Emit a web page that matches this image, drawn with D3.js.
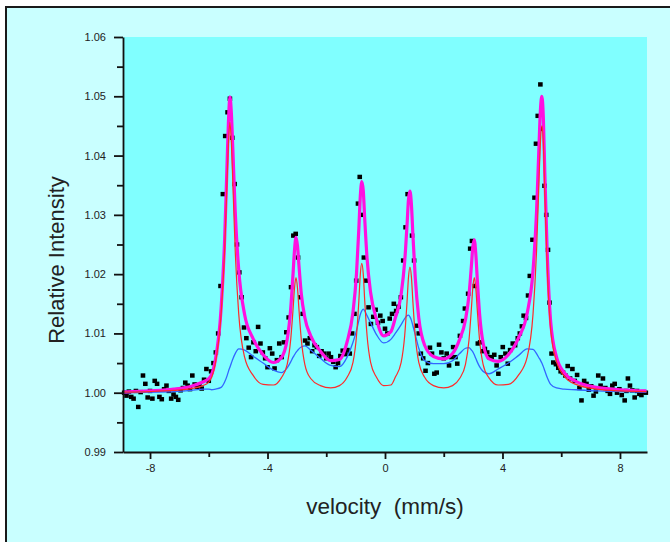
<!DOCTYPE html>
<html>
<head>
<meta charset="utf-8">
<script src="https://cdn.jsdelivr.net/npm/d3@7"></script>
<style>
  html, body { margin: 0; padding: 0; background: #ffffff; }
  svg { display: block; }
  text { font-family: "Liberation Sans", Arial, sans-serif; }
</style>
</head>
<body>
<svg id="chart" width="670" height="542"></svg>
<script>
// ---- Axis ticks ----
const xMajorTicks = [-8, -4, 0, 4, 8];
const xMinorTicks = [-6, -2, 2, 6];
const yMajorTicks = [0.99, 1.00, 1.01, 1.02, 1.03, 1.04, 1.05, 1.06];
const yMinorTicks = [0.995, 1.005, 1.015, 1.025, 1.035, 1.045, 1.055];

// ---- Measured spectrum: velocity (mm/s) and relative intensity ----
const dataVelocity = [
  -8.88, -8.80, -8.72, -8.64, -8.56, -8.48, -8.40, -8.32, -8.24, -8.16,
  -8.08, -8.00, -7.92, -7.84, -7.76, -7.68, -7.60, -7.52, -7.44, -7.36,
  -7.28, -7.20, -7.12, -7.04, -6.96, -6.88, -6.80, -6.72, -6.64, -6.56,
  -6.48, -6.40, -6.32, -6.24, -6.16, -6.08, -6.00, -5.92, -5.84, -5.76,
  -5.68, -5.60, -5.52, -5.44, -5.36, -5.28, -5.20, -5.12, -5.04, -4.96,
  -4.88, -4.80, -4.72, -4.64, -4.56, -4.48, -4.40, -4.32, -4.24, -4.16,
  -4.08, -4.00, -3.92, -3.84, -3.76, -3.68, -3.60, -3.52, -3.44, -3.36,
  -3.28, -3.20, -3.12, -3.04, -2.96, -2.88, -2.80, -2.72, -2.64, -2.56,
  -2.48, -2.40, -2.32, -2.24, -2.16, -2.08, -2.00, -1.92, -1.84, -1.76,
  -1.68, -1.60, -1.52, -1.44, -1.36, -1.28, -1.20, -1.12, -1.04, -0.98,
  -0.92, -0.86, -0.78, -0.72, -0.64, -0.56, -0.48, -0.40, -0.32, -0.24,
  -0.16, -0.08, 0.00, 0.08, 0.16, 0.24, 0.30, 0.38, 0.46, 0.54,
  0.62, 0.70, 0.77, 0.84, 0.92, 0.99, 1.07, 1.15, 1.22, 1.30,
  1.38, 1.46, 1.53, 1.60, 1.68, 1.76, 1.84, 1.92, 2.00, 2.10,
  2.18, 2.26, 2.32, 2.40, 2.46, 2.55, 2.66, 2.72, 2.83, 2.90,
  2.96, 3.06, 3.16, 3.24, 3.32, 3.40, 3.48, 3.56, 3.63, 3.72,
  3.80, 3.86, 3.94, 4.01, 4.10, 4.18, 4.26, 4.35, 4.43, 4.52,
  4.59, 4.66, 4.72, 4.80, 4.87, 4.93, 5.02, 5.09, 5.14, 5.20,
  5.29, 5.36, 5.43, 5.49, 5.55, 5.60, 5.67, 5.73, 5.82, 5.90,
  5.98, 6.06, 6.14, 6.22, 6.30, 6.38, 6.46, 6.54, 6.62, 6.69,
  6.78, 6.86, 6.94, 7.02, 7.10, 7.18, 7.26, 7.34, 7.42, 7.50,
  7.58, 7.66, 7.74, 7.82, 7.90, 7.98, 8.06, 8.16, 8.22, 8.27,
  8.34, 8.42, 8.50, 8.58, 8.66, 8.73, 8.80, 8.88
];
const dataIntensity = [
  1.0000, 0.9995, 1.0002, 0.9993, 0.9990, 1.0003, 0.9976, 1.0001, 1.0029, 1.0015,
  0.9992, 1.0003, 0.9990, 1.0020, 1.0015, 0.9993, 0.9989, 1.0006, 1.0012, 1.0003,
  0.9990, 0.9997, 0.9993, 0.9988, 1.0004, 1.0008, 1.0017, 1.0012, 1.0006, 1.0029,
  1.0014, 1.0010, 1.0013, 1.0007, 1.0022, 1.0040, 1.0020, 1.0036, 1.0050, 1.0068,
  1.0100, 1.0180, 1.0335, 1.0433, 1.0473, 1.0496, 1.0430, 1.0352, 1.0250, 1.0203,
  1.0161, 1.0110, 1.0092, 1.0076, 1.0060, 1.0085, 1.0070, 1.0111, 1.0083, 1.0068,
  1.0058, 1.0043, 1.0075, 1.0066, 1.0041, 1.0055, 1.0083, 1.0060, 1.0085, 1.0102,
  1.0127, 1.0178, 1.0265, 1.0268, 1.0228, 1.0161, 1.0133, 1.0088, 1.0083, 1.0092,
  1.0070, 1.0080, 1.0077, 1.0062, 1.0070, 1.0066, 1.0058, 1.0066, 1.0060, 1.0052,
  1.0043, 1.0050, 1.0062, 1.0071, 1.0065, 1.0072, 1.0066, 1.0100, 1.0133, 1.0189,
  1.0319, 1.0364, 1.0300, 1.0228, 1.0189, 1.0144, 1.0116, 1.0128, 1.0140, 1.0118,
  1.0130, 1.0121, 1.0108, 1.0100, 1.0125, 1.0133, 1.0150, 1.0138, 1.0145, 1.0161,
  1.0223, 1.0279, 1.0335, 1.0322, 1.0265, 1.0223, 1.0113, 1.0100, 1.0066, 1.0058,
  1.0037, 1.0050, 1.0076, 1.0066, 1.0032, 1.0034, 1.0081, 1.0068, 1.0058, 1.0066,
  1.0046, 1.0060, 1.0077, 1.0060, 1.0049, 1.0096, 1.0121, 1.0142, 1.0167, 1.0243,
  1.0256, 1.0180, 1.0083, 1.0085, 1.0070, 1.0074, 1.0068, 1.0060, 1.0060, 1.0064,
  1.0046, 1.0032, 1.0060, 1.0077, 1.0066, 1.0049, 1.0072, 1.0083, 1.0080, 1.0092,
  1.0100, 1.0112, 1.0130, 1.0126, 1.0164, 1.0197, 1.0258, 1.0329, 1.0420, 1.0467,
  1.0520, 1.0445, 1.0349, 1.0300, 1.0241, 1.0152, 1.0066, 1.0051, 1.0048, 1.0042,
  1.0036, 1.0034, 1.0029, 1.0045, 1.0024, 1.0040, 1.0020, 1.0030, 1.0008, 0.9987,
  1.0020, 1.0015, 1.0005, 1.0011, 0.9995, 1.0002, 1.0029, 1.0012, 1.0024, 1.0008,
  1.0003, 0.9998, 1.0012, 1.0015, 1.0000, 1.0006, 0.9996, 0.9987, 1.0003, 1.0024,
  1.0012, 1.0004, 0.9992, 1.0003, 0.9998, 0.9996, 1.0001, 1.0000
];

// ---- Fitted curves, sampled on one velocity grid ----
const fitVelocity = [
  -8.90, -8.00, -7.20, -6.60, -6.20, -6.00, -5.90, -5.78,
  -5.58, -5.46, -5.38, -5.33, -5.28, -5.23, -5.18, -5.10,
  -4.98, -4.78, -4.50, -4.15, -3.80, -3.53, -3.33, -3.21,
  -3.13, -3.08, -3.03, -2.98, -2.93, -2.85, -2.73, -2.53,
  -2.20, -1.85, -1.55, -1.29, -1.09, -0.97, -0.89, -0.84,
  -0.79, -0.74, -0.69, -0.61, -0.49, -0.29, -0.05, 0.20,
  0.35, 0.55, 0.67, 0.75, 0.80, 0.85, 0.90, 0.95,
  1.03, 1.15, 1.35, 1.65, 2.00, 2.30, 2.54, 2.74,
  2.86, 2.94, 2.99, 3.04, 3.09, 3.14, 3.22, 3.34,
  3.54, 3.85, 4.20, 4.55, 4.84, 5.04, 5.16, 5.24,
  5.29, 5.34, 5.39, 5.44, 5.52, 5.64, 5.84, 6.10,
  6.50, 7.20, 8.00, 8.90
];
// narrow magnetic sextet (red)
const sextetNarrow = [
  1.0001, 1.0002, 1.0004, 1.0007, 1.0012, 1.0018, 1.0026, 1.0048,
  1.0133, 1.0240, 1.0353, 1.0421, 1.0456, 1.0421, 1.0353, 1.0240,
  1.0133, 1.0060, 1.0030, 1.0014, 1.0013, 1.0025, 1.0048, 1.0090,
  1.0141, 1.0177, 1.0194, 1.0177, 1.0141, 1.0090, 1.0048, 1.0024,
  1.0012, 1.0008, 1.0012, 1.0026, 1.0051, 1.0096, 1.0155, 1.0200,
  1.0218, 1.0200, 1.0155, 1.0096, 1.0051, 1.0026, 1.0012, 1.0013,
  1.0026, 1.0051, 1.0096, 1.0153, 1.0195, 1.0212, 1.0195, 1.0153,
  1.0096, 1.0051, 1.0026, 1.0012, 1.0008, 1.0012, 1.0024, 1.0048,
  1.0089, 1.0141, 1.0177, 1.0194, 1.0177, 1.0141, 1.0089, 1.0048,
  1.0025, 1.0013, 1.0014, 1.0030, 1.0060, 1.0133, 1.0240, 1.0353,
  1.0421, 1.0450, 1.0421, 1.0335, 1.0214, 1.0106, 1.0052, 1.0028,
  1.0014, 1.0006, 1.0003, 1.0002
];
// broad component (blue)
const broadComponent = [
  1.0000, 1.0001, 1.0002, 1.0004, 1.0006, 1.0006, 1.0005, 1.0006,
  1.0009, 1.0018, 1.0028, 1.0036, 1.0043, 1.0050, 1.0057, 1.0066,
  1.0074, 1.0072, 1.0062, 1.0050, 1.0038, 1.0034, 1.0042, 1.0052,
  1.0060, 1.0064, 1.0068, 1.0071, 1.0074, 1.0077, 1.0079, 1.0072,
  1.0058, 1.0046, 1.0044, 1.0060, 1.0085, 1.0105, 1.0122, 1.0132,
  1.0138, 1.0141, 1.0138, 1.0130, 1.0118, 1.0098, 1.0084, 1.0090,
  1.0100, 1.0115, 1.0125, 1.0130, 1.0131, 1.0128, 1.0122, 1.0113,
  1.0098, 1.0075, 1.0054, 1.0049, 1.0049, 1.0054, 1.0066, 1.0075,
  1.0076, 1.0072, 1.0069, 1.0064, 1.0058, 1.0052, 1.0044, 1.0036,
  1.0032, 1.0040, 1.0050, 1.0063, 1.0074, 1.0073, 1.0066, 1.0059,
  1.0055, 1.0050, 1.0044, 1.0037, 1.0026, 1.0014, 1.0008, 1.0006,
  1.0005, 1.0003, 1.0002, 1.0001
];
// total fit (magenta)
const totalFit = [
  1.0001, 1.0003, 1.0006, 1.0011, 1.0018, 1.0024, 1.0031, 1.0054,
  1.0142, 1.0258, 1.0381, 1.0457, 1.0499, 1.0471, 1.0410, 1.0306,
  1.0207, 1.0132, 1.0092, 1.0064, 1.0051, 1.0059, 1.0090, 1.0142,
  1.0201, 1.0241, 1.0262, 1.0248, 1.0215, 1.0167, 1.0127, 1.0096,
  1.0070, 1.0054, 1.0056, 1.0086, 1.0136, 1.0201, 1.0277, 1.0332,
  1.0356, 1.0341, 1.0293, 1.0226, 1.0169, 1.0124, 1.0096, 1.0103,
  1.0126, 1.0166, 1.0221, 1.0283, 1.0326, 1.0340, 1.0317, 1.0266,
  1.0194, 1.0126, 1.0080, 1.0061, 1.0057, 1.0066, 1.0090, 1.0123,
  1.0165, 1.0213, 1.0246, 1.0258, 1.0235, 1.0193, 1.0133, 1.0084,
  1.0057, 1.0053, 1.0064, 1.0093, 1.0134, 1.0206, 1.0306, 1.0412,
  1.0476, 1.0500, 1.0465, 1.0372, 1.0240, 1.0120, 1.0060, 1.0034,
  1.0019, 1.0009, 1.0005, 1.0003
];

// ---- Layout ----
const W = 670, H = 542;
const plot = { left: 123, right: 647, top: 37, bottom: 452 };

const svg = d3.select("#chart");

// outer panel (its right and bottom edges run past the canvas)
svg.append("rect")
  .attr("x", 6).attr("y", 7)
  .attr("width", W + 20).attr("height", H + 20)
  .attr("fill", "#c9ffff")
  .attr("stroke", "#1a1a1a")
  .attr("stroke-width", 2);

// plotting area
svg.append("rect")
  .attr("x", plot.left).attr("y", plot.top)
  .attr("width", plot.right - plot.left)
  .attr("height", plot.bottom - plot.top)
  .attr("fill", "#80ffff");

const x = d3.scaleLinear().domain([-8.92, 8.92]).range([plot.left, plot.right]);
const y = d3.scaleLinear().domain([0.99, 1.06]).range([plot.bottom, plot.top]);

// ---- Measured points ----
const pts = dataVelocity.map((v, i) => [v, dataIntensity[i]]);
svg.append("g")
  .selectAll("rect")
  .data(pts)
  .join("rect")
  .attr("x", d => x(d[0]) - 2.3)
  .attr("y", d => y(d[1]) - 2.2)
  .attr("width", 4.6)
  .attr("height", 4.4)
  .attr("fill", "#000000");

// ---- Fit curves ----
function curvePoints(values) {
  return fitVelocity.map((v, i) => [v, values[i]]);
}
const line = d3.line()
  .x(d => x(d[0]))
  .y(d => y(d[1]))
  .curve(d3.curveMonotoneX);

svg.append("path")
  .attr("d", line(curvePoints(totalFit)))
  .attr("fill", "none")
  .attr("stroke", "#ff10e0")
  .attr("stroke-width", 3.2)
  .attr("stroke-linejoin", "round");

svg.append("path")
  .attr("d", line(curvePoints(broadComponent)))
  .attr("fill", "none")
  .attr("stroke", "#3366ff")
  .attr("stroke-width", 1.3);

svg.append("path")
  .attr("d", line(curvePoints(sextetNarrow)))
  .attr("fill", "none")
  .attr("stroke", "#ff2a2a")
  .attr("stroke-width", 1.2);

// ---- Axes ----
const axisColor = "#111111";
const fmtY = d3.format(".2f");

svg.append("g")
  .attr("transform", `translate(${plot.left},0)`)
  .call(d3.axisLeft(y).tickValues(yMajorTicks).tickSize(9).tickSizeOuter(0)
    .tickPadding(8).tickFormat(fmtY));
svg.append("g")
  .attr("transform", `translate(${plot.left},0)`)
  .call(d3.axisLeft(y).tickValues(yMinorTicks).tickSize(6).tickFormat(""))
  .call(g => g.select(".domain").remove());

svg.append("g")
  .attr("transform", `translate(0,${plot.bottom})`)
  .call(d3.axisBottom(x).tickValues(xMajorTicks).tickSize(7).tickSizeOuter(0)
    .tickPadding(5).tickFormat(d => String(d)));
svg.append("g")
  .attr("transform", `translate(0,${plot.bottom})`)
  .call(d3.axisBottom(x).tickValues(xMinorTicks).tickSize(5).tickFormat(""))
  .call(g => g.select(".domain").remove());

svg.selectAll(".domain").attr("stroke", axisColor).attr("stroke-width", 1.8);
svg.selectAll(".tick line").attr("stroke", axisColor).attr("stroke-width", 1.8);
svg.selectAll(".tick text")
  .attr("fill", "#222222")
  .style("font-size", "11px")
  .style("font-family", "'Liberation Sans', Arial, sans-serif");

// ---- Axis titles ----
svg.append("text")
  .attr("transform", `translate(64,260) rotate(-90)`)
  .attr("text-anchor", "middle")
  .attr("fill", "#222222")
  .style("font-size", "22px")
  .text("Relative Intensity");

svg.append("text")
  .attr("x", 385).attr("y", 514)
  .attr("text-anchor", "middle")
  .attr("fill", "#222222")
  .style("font-size", "22.5px")
  .style("white-space", "pre")
  .text("velocity  (mm/s)");
</script>
</body>
</html>
